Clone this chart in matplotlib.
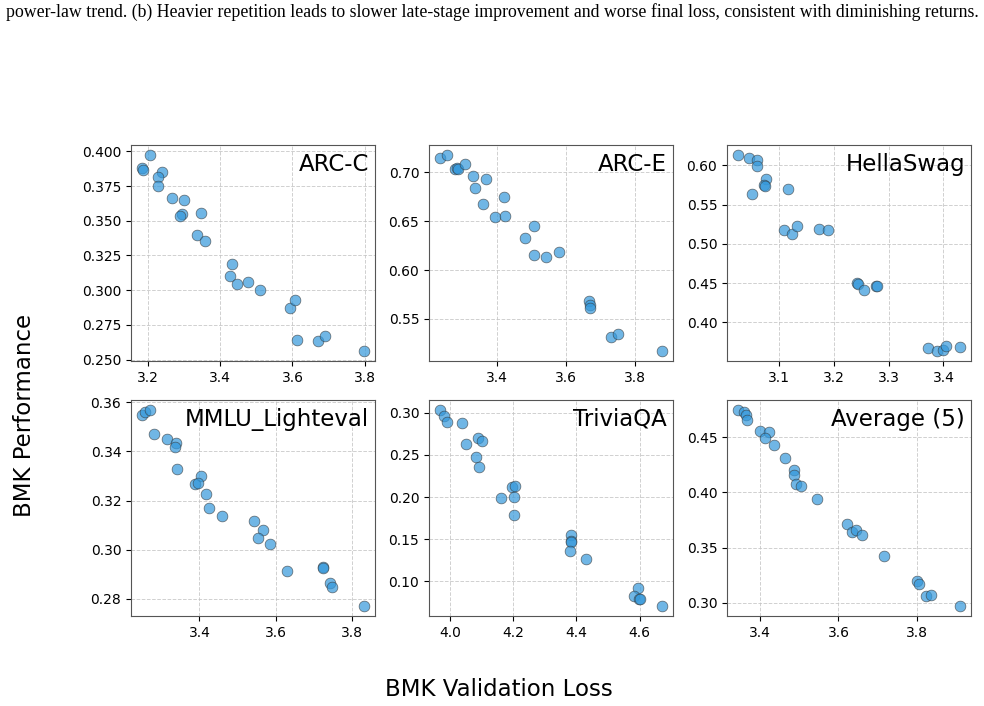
import matplotlib
matplotlib.use("Agg")
import matplotlib.pyplot as plt

names = ["ARC-C", "ARC-E", "HellaSwag", "MMLU_Lighteval", "TriviaQA", "Average (5)"]

arcc_x = [3.206, 3.183, 3.186, 3.239, 3.227, 3.227, 3.266, 3.299, 3.294, 3.289, 3.345, 3.334,
          3.358, 3.432, 3.426, 3.446, 3.476, 3.511, 3.592, 3.608, 3.612, 3.672, 3.690, 3.798]
arcc_y = [0.3976, 0.3880, 0.3868, 0.3849, 0.3815, 0.3748, 0.3662, 0.3652, 0.3551, 0.3532, 0.3556, 0.3395,
          0.3352, 0.3189, 0.3100, 0.3045, 0.3062, 0.3004, 0.2872, 0.2932, 0.2644, 0.2632, 0.2673, 0.2560]

arce_x = [3.236, 3.257, 3.280, 3.285, 3.289, 3.308, 3.331, 3.369, 3.338, 3.361, 3.421, 3.396,
          3.424, 3.506, 3.480, 3.508, 3.543, 3.580, 3.665, 3.670, 3.670, 3.731, 3.751, 3.877]
arce_y = [0.7153, 0.7181, 0.7038, 0.7045, 0.7034, 0.7085, 0.6966, 0.6932, 0.6843, 0.6673, 0.6744, 0.6543,
          0.6557, 0.6448, 0.6325, 0.6154, 0.6137, 0.6182, 0.5681, 0.5647, 0.5612, 0.5312, 0.5343, 0.5169]

hs_x = [3.026, 3.046, 3.061, 3.061, 3.051, 3.076, 3.073, 3.075, 3.116, 3.110, 3.124, 3.133,
        3.174, 3.189, 3.243, 3.245, 3.256, 3.277, 3.279, 3.371, 3.388, 3.400, 3.405, 3.430]
hs_y = [0.6136, 0.6093, 0.6072, 0.5996, 0.5640, 0.5826, 0.5754, 0.5742, 0.5699, 0.5174, 0.5127, 0.5225,
        0.5191, 0.5182, 0.4505, 0.4490, 0.4407, 0.4465, 0.4458, 0.3669, 0.3631, 0.3644, 0.3703, 0.3682]

mmlu_x = [3.250, 3.258, 3.270, 3.280, 3.316, 3.339, 3.337, 3.342, 3.404, 3.389, 3.396, 3.418,
          3.425, 3.458, 3.542, 3.565, 3.552, 3.585, 3.630, 3.722, 3.724, 3.741, 3.747, 3.830]
mmlu_y = [0.3549, 0.3559, 0.3569, 0.3472, 0.3451, 0.3434, 0.3418, 0.3327, 0.3299, 0.3266, 0.3270, 0.3226,
          0.3170, 0.3138, 0.3116, 0.3080, 0.3046, 0.3022, 0.2914, 0.2931, 0.2927, 0.2866, 0.2847, 0.2770]

tqa_x = [3.968, 3.981, 3.989, 4.037, 4.050, 4.087, 4.102, 4.082, 4.090, 4.161, 4.196, 4.204,
         4.201, 4.201, 4.382, 4.382, 4.384, 4.380, 4.430, 4.596, 4.581, 4.598, 4.602, 4.671]
tqa_y = [0.3036, 0.2968, 0.2889, 0.2877, 0.2625, 0.2696, 0.2660, 0.2470, 0.2356, 0.1988, 0.2115, 0.2127,
         0.1996, 0.1783, 0.1545, 0.1478, 0.1468, 0.1360, 0.1261, 0.0921, 0.0822, 0.0794, 0.0792, 0.0704]

avg_x = [3.343, 3.359, 3.362, 3.366, 3.398, 3.423, 3.413, 3.435, 3.462, 3.486, 3.485, 3.491,
         3.505, 3.545, 3.622, 3.635, 3.644, 3.660, 3.716, 3.800, 3.805, 3.823, 3.836, 3.911]
avg_y = [0.4746, 0.4725, 0.4701, 0.4656, 0.4551, 0.4545, 0.4494, 0.4428, 0.4314, 0.4199, 0.4160, 0.4079,
         0.4055, 0.3938, 0.3712, 0.3643, 0.3655, 0.3613, 0.3427, 0.3202, 0.3174, 0.3066, 0.3072, 0.2970]

xs = [arcc_x, arce_x, hs_x, mmlu_x, tqa_x, avg_x]
ys = [arcc_y, arce_y, hs_y, mmlu_y, tqa_y, avg_y]

caption = ("power-law trend. (b) Heavier repetition leads to slower late-stage improvement "
           "and worse final loss, consistent with diminishing returns.")

W, H = 984, 706
fig = plt.figure(figsize=(W / 100, H / 100), dpi=100)

lefts = [131, 429, 727]
tops = [145, 400]
aw, ah = 244, 216

for i in range(6):
    r, c = divmod(i, 3)
    ax = fig.add_axes([lefts[c] / W, 1 - (tops[r] + ah) / H, aw / W, ah / H])
    ax.scatter(xs[i], ys[i], s=60, color="#3498db", alpha=0.7,
               edgecolors="#333333", linewidths=0.5, zorder=3)
    ax.grid(True, linestyle="--", color="#c4c4c4", linewidth=0.7, alpha=0.8)
    ax.set_axisbelow(True)
    ax.tick_params(labelsize=10)
    for sp in ax.spines.values():
        sp.set_color("#555555")
    ax.text(0.975, 0.965, names[i], transform=ax.transAxes, ha="right", va="top",
            fontsize=16.5)

fig.text(499 / W, 1 - 690 / H, "BMK Validation Loss", ha="center", va="center", fontsize=16.5)
fig.text(25 / W, 1 - 415 / H, "BMK Performance", ha="center", va="center",
         rotation=90, fontsize=16.5)
fig.text(6 / W, 1 - 17 / H, caption, ha="left", va="baseline",
         fontsize=12.8, family=["Liberation Serif", "DejaVu Serif"])

fig.savefig("out.png", dpi=100)
